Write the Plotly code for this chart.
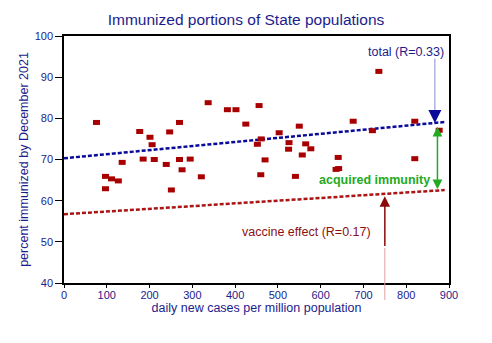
import plotly.graph_objects as go

# State-level data: daily new cases per million vs. percent immunized
cases = [76, 270, 177, 247, 201, 206, 185, 211, 270, 295, 136, 239, 276, 97, 111,
         127, 97, 251, 337, 382, 402, 456, 425, 503, 550, 461, 452, 526, 525, 565,
         577, 557, 470, 321, 460, 541, 736, 676, 820, 721, 877, 641, 820, 636, 642]
immunized = [79.0, 79.0, 76.8, 76.7, 75.4, 73.6, 70.1, 70.0, 70.0, 70.1, 69.3, 68.8,
             67.5, 65.9, 65.3, 64.8, 62.9, 62.6, 83.8, 82.1, 82.1, 83.1, 78.6, 76.5,
             78.1, 75.0, 73.7, 74.1, 72.5, 73.8, 72.6, 71.1, 69.9, 65.8, 66.3, 65.9,
             91.4, 79.3, 79.3, 77.0, 77.1, 70.5, 70.2, 67.6, 67.8]

# Linear fits: (intercept, slope)
total_fit = (70.3, 0.0099)
vaccine_fit = (56.7, 0.0066)
fit_range = [0, 890]

x_ticks = list(range(0, 901, 100))
y_ticks = list(range(40, 101, 10))

NAVY = "#1c1c8c"
DARKRED = "#a80000"
FIT_BLUE = "#0a0a9a"
FIT_RED = "#aa1414"
GREEN = "#22aa22"
FONT = "Liberation Sans"

fig = go.Figure()

fig.add_trace(go.Scatter(
    x=fit_range, y=[total_fit[0] + total_fit[1] * v for v in fit_range],
    mode="lines", line=dict(color=FIT_BLUE, width=2.5, dash="4px,2px"),
    hoverinfo="skip", showlegend=False))
fig.add_trace(go.Scatter(
    x=fit_range, y=[vaccine_fit[0] + vaccine_fit[1] * v for v in fit_range],
    mode="lines", line=dict(color=FIT_RED, width=2.5, dash="4px,2px"),
    hoverinfo="skip", showlegend=False))

# States drawn as small horizontal blocks
fig.add_trace(go.Scatter(
    x=cases, y=immunized, mode="markers",
    marker=dict(symbol="line-ew", size=5, line=dict(color=DARKRED, width=5)),
    showlegend=False))

# Arrow positions on the fits
x_total = 867
x_gap = 873
x_vacc = 750
y_total_tip = total_fit[0] + total_fit[1] * x_total
y_gap_top = total_fit[0] + total_fit[1] * x_gap - 0.6
y_gap_bot = vaccine_fit[0] + vaccine_fit[1] * x_gap + 0.3
y_vacc_tip = vaccine_fit[0] + vaccine_fit[1] * x_vacc - 0.6

ann = []
# total label and arrow
ann.append(dict(x=894, y=96.1, xref="x", yref="y", text="total (R=0.33)",
                showarrow=False, xanchor="right", yanchor="middle",
                font=dict(family=FONT, size=12.5, color=NAVY)))
ann.append(dict(x=x_total, y=81.5, ax=x_total, ay=94.9, xref="x", yref="y",
                axref="x", ayref="y", text="", showarrow=True, arrowhead=0,
                arrowwidth=1, arrowcolor="#8a8ad0"))
ann.append(dict(x=x_total, y=y_total_tip, ax=x_total, ay=82.0, xref="x", yref="y",
                axref="x", ayref="y", text="", showarrow=True, arrowhead=2,
                arrowsize=1.3, arrowwidth=2, arrowcolor=FIT_BLUE))
# acquired immunity double arrow
ann.append(dict(x=x_gap, y=y_gap_bot, ax=x_gap, ay=y_gap_top, xref="x", yref="y",
                axref="x", ayref="y", text="", showarrow=True, arrowhead=2,
                arrowside="end+start", arrowsize=1.3, arrowwidth=1.5,
                arrowcolor=GREEN))
ann.append(dict(x=861, y=64.9, xref="x", yref="y", text="<b>acquired immunity</b>",
                showarrow=False, xanchor="right", yanchor="middle",
                font=dict(family=FONT, size=12.5, color=GREEN)))
# vaccine effect label and arrow
ann.append(dict(x=722, y=52.3, xref="x", yref="y", text="vaccine effect (R=0.17)",
                showarrow=False, xanchor="right", yanchor="middle",
                font=dict(family=FONT, size=12.5, color="#8b1010")))
ann.append(dict(x=x_vacc, y=48.5, ax=x_vacc, ay=35.5, xref="x", yref="y",
                axref="x", ayref="y", text="", showarrow=True, arrowhead=0,
                arrowwidth=1, arrowcolor="#e0a0a8"))
ann.append(dict(x=x_vacc, y=y_vacc_tip, ax=x_vacc, ay=48.6, xref="x", yref="y",
                axref="x", ayref="y", text="", showarrow=True, arrowhead=2,
                arrowsize=1.4, arrowwidth=1.5, arrowcolor="#8b0a0a"))

fig.update_layout(
    width=492, height=343,
    margin=dict(l=64, r=43, t=36, b=60),
    paper_bgcolor="white", plot_bgcolor="white",
    title=dict(text="Immunized portions of State populations", x=0.5, xanchor="center",
               y=1 - 20 / 343, yanchor="middle",
               font=dict(family=FONT, size=15.5, color=NAVY)),
    annotations=ann,
    font=dict(family=FONT, color=NAVY),
)
fig.update_xaxes(
    range=[0, 900], tickvals=x_ticks, showgrid=False, zeroline=False,
    showline=True, linecolor="black", linewidth=1.5, mirror=True,
    ticks="outside", ticklen=3, tickcolor="black", tickwidth=1,
    ticklabelstandoff=-2,
    tickfont=dict(family=FONT, size=11, color=NAVY),
    title=dict(text="daily new cases per million population", standoff=0,
               font=dict(family=FONT, size=12.5, color=NAVY)))
fig.update_yaxes(
    range=[40, 100], tickvals=y_ticks, showgrid=False, zeroline=False,
    showline=True, linecolor="black", linewidth=1.5, mirror=True,
    ticks="outside", ticklen=7, tickcolor="black", tickwidth=1,
    tickfont=dict(family=FONT, size=11, color=NAVY),
    title=dict(text="percent immunized by December 2021", standoff=3,
               font=dict(family=FONT, size=12.5, color=NAVY)))

fig.write_html("out.html")
